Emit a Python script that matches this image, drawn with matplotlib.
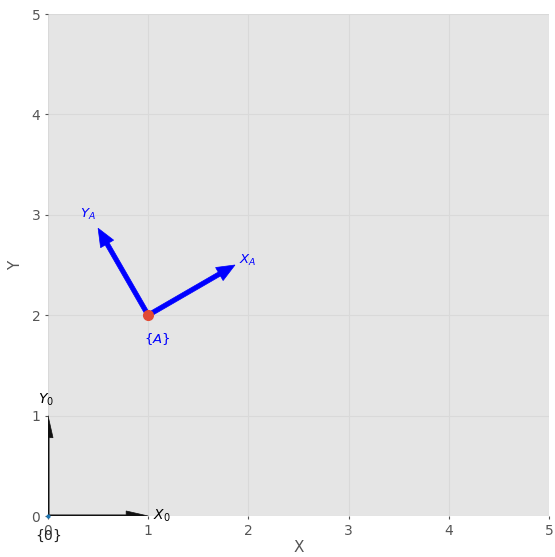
import numpy as np
import matplotlib
matplotlib.use("Agg")
import matplotlib.pyplot as plt

plt.style.use("ggplot")

# Frame data
frame0_origin = [0.0, 0.0]
frame0_angle_deg = 0.0
frameA_origin = [1.0, 2.0]
frameA_angle_deg = 30.0
axis_limits = [0, 5]
ticks = [0, 1, 2, 3, 4, 5]

fig = plt.figure(figsize=(5.55, 5.57), dpi=100)
ax = fig.add_axes([48/555, 1 - 516/557, 501/555, 502/557])
ax.set_facecolor("#e5e5e5")
ax.grid(True, color="#d9d9d9", linewidth=0.8)
ax.set_axisbelow(True)
ax.set_xlim(axis_limits)
ax.set_ylim(axis_limits)
ax.set_xticks(ticks)
ax.set_yticks(ticks)
ax.tick_params(colors="#555555", labelsize=10, length=2)
ax.set_xlabel("X", color="#555555", fontsize=11, labelpad=2)
ax.set_ylabel("Y", color="#555555", fontsize=11, labelpad=6)


def draw_frame(origin, angle_deg, color, width, hw, hl):
    th = np.deg2rad(angle_deg)
    ux = np.array([np.cos(th), np.sin(th)])
    uy = np.array([-np.sin(th), np.cos(th)])
    o = np.array(origin)
    for u in (ux, uy):
        ax.arrow(o[0], o[1], u[0], u[1], width=width, head_width=hw,
                 head_length=hl, length_includes_head=True, color=color, zorder=3)
    return o, ux, uy


# frame 0
o, ux, uy = draw_frame(frame0_origin, frame0_angle_deg, "#111111", 0.022, 0.1, 0.22)
ax.text(1.05, 0.0, r"$X_0$", color="black", fontsize=10, va="center", ha="left", clip_on=False)
ax.text(-0.02, 1.16, r"$Y_0$", color="black", fontsize=10, va="center", ha="center", clip_on=False)
ax.text(0.0, -0.2, r"$\{0\}$", color="#222222", fontsize=10, va="center", ha="center", clip_on=False)
ax.plot([0], [0], "o", color="#1f77b4", markersize=2, clip_on=False, zorder=4)

# frame A
o, ux, uy = draw_frame(frameA_origin, frameA_angle_deg, "blue", 0.045, 0.15, 0.18)
pa = o + 1.1*ux + np.array([0.04, 0.0])
pb = o + 1.1*uy + np.array([-0.05, 0.05])
ax.text(pa[0], pa[1], r"$X_A$", color="blue", fontsize=9.5, va="center", ha="center")
ax.text(pb[0], pb[1], r"$Y_A$", color="blue", fontsize=9.5, va="center", ha="center")
ax.text(1.09, 1.76, r"$\{A\}$", color="blue", fontsize=9.5, va="center", ha="center")
ax.plot([o[0]], [o[1]], "o", color="#E24A33", markersize=7, zorder=4)

for s in ax.spines.values():
    s.set_visible(False)

fig.savefig("out.png", dpi=100)
